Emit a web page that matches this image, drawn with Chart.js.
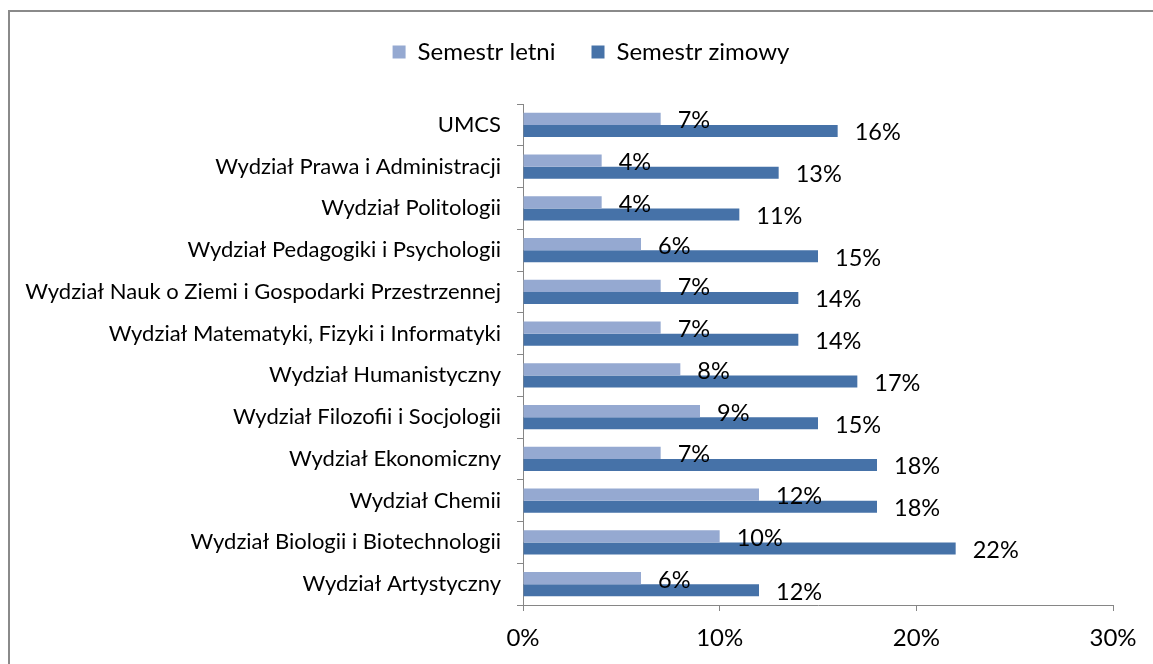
<!DOCTYPE html>
<html>
<head>
<meta charset="utf-8">
<script src="https://cdn.jsdelivr.net/npm/chart.js@4.4.1/dist/chart.umd.min.js"></script>
<style>
  html, body { margin: 0; padding: 0; background: #fff; }
  #wrap { width: 1153px; height: 664px; }
</style>
</head>
<body>
<div id="wrap"><canvas id="chart"></canvas></div>
<script>
const faculties = [
  "UMCS",
  "Wydział Prawa i Administracji",
  "Wydział Politologii",
  "Wydział Pedagogiki i Psychologii",
  "Wydział Nauk o Ziemi i Gospodarki Przestrzennej",
  "Wydział Matematyki, Fizyki i Informatyki",
  "Wydział Humanistyczny",
  "Wydział Filozofii i Socjologii",
  "Wydział Ekonomiczny",
  "Wydział Chemii",
  "Wydział Biologii i Biotechnologii",
  "Wydział Artystyczny"
];
const summerValues = [7, 4, 4, 6, 7, 7, 8, 9, 7, 12, 10, 6];
const winterValues = [16, 13, 11, 15, 14, 14, 17, 15, 18, 18, 22, 12];
const seriesNames = ["Semestr letni", "Semestr zimowy"];
const axisTicks = [0, 10, 20, 30];

const fontFamily = "Lato, 'Open Sans', sans-serif";
const axisGrey = "#868686";

// ramka wykresu jak w Excelu (dolna i prawa krawedz poza kadrem)
const framePlugin = {
  id: "frame",
  beforeDraw: (chart) => {
    const ctx = chart.ctx;
    ctx.save();
    ctx.fillStyle = "#fff";
    ctx.fillRect(0, 0, chart.width, chart.height);
    ctx.strokeStyle = "#8a8a8a";
    ctx.lineWidth = 2;
    ctx.strokeRect(9, 11, chart.width + 20, chart.height + 20);
    ctx.restore();
  }
};

// etykiety z procentami przy koncach slupkow
const valueLabels = {
  id: "valueLabels",
  afterDatasetsDraw: (chart) => {
    const ctx = chart.ctx;
    ctx.save();
    ctx.font = "23.5px " + fontFamily;
    ctx.fillStyle = "#000";
    ctx.textAlign = "left";
    ctx.textBaseline = "middle";
    chart.data.datasets.forEach((ds, d) => {
      const meta = chart.getDatasetMeta(d);
      meta.data.forEach((bar, i) => {
        ctx.fillText(ds.data[i] + "%", bar.x + 17, bar.y + 2);
      });
    });
    ctx.restore();
  }
};

const chart = new Chart(document.getElementById("chart"), {
  type: "bar",
  data: {
    labels: faculties,
    datasets: [
      {
        label: seriesNames[0],
        data: summerValues,
        backgroundColor: "#95a9d1",
        categoryPercentage: 0.575,
        barPercentage: 1
      },
      {
        label: seriesNames[1],
        data: winterValues,
        backgroundColor: "#4672a8",
        categoryPercentage: 0.575,
        barPercentage: 1
      }
    ]
  },
  options: {
    indexAxis: "y",
    responsive: true,
    maintainAspectRatio: false,
    animation: false,
    // ujemny prawy margines przesuwa srodek legendy w prawo jak w oryginale
    layout: { padding: { left: 20, right: -9, top: 4, bottom: 0 } },
    plugins: {
      tooltip: { enabled: false },
      legend: {
        position: "top",
        labels: {
          boxWidth: 13,
          boxHeight: 13,
          padding: 36,
          color: "#000",
          font: { family: fontFamily, size: 24 }
        }
      },
      // pusty podtytul jako odstep miedzy legenda a wykresem
      subtitle: {
        display: true,
        text: "",
        weight: 500,
        font: { size: 1, lineHeight: 1 },
        padding: { top: 29, bottom: 0 }
      }
    },
    scales: {
      x: {
        min: 0,
        max: 30,
        afterBuildTicks: (scale) => {
          scale.ticks = axisTicks.map((v) => ({ value: v }));
        },
        afterFit: (scale) => {
          scale.height = 59;
          scale.paddingRight = 40;
        },
        ticks: {
          color: "#000",
          padding: 13,
          font: { family: fontFamily, size: 24 },
          callback: (v) => v + "%"
        },
        grid: {
          drawOnChartArea: false,
          drawTicks: true,
          tickLength: 6,
          color: axisGrey
        },
        border: { color: axisGrey, width: 1 }
      },
      y: {
        afterFit: (scale) => {
          scale.width = 523 - 20;
        },
        ticks: {
          color: "#000",
          padding: 16,
          font: { family: fontFamily, size: 22 }
        },
        grid: {
          offset: true,
          drawOnChartArea: false,
          drawTicks: true,
          tickLength: 6,
          color: axisGrey
        },
        border: { color: axisGrey, width: 1 }
      }
    }
  },
  plugins: [framePlugin, valueLabels]
});
</script>
</body>
</html>
